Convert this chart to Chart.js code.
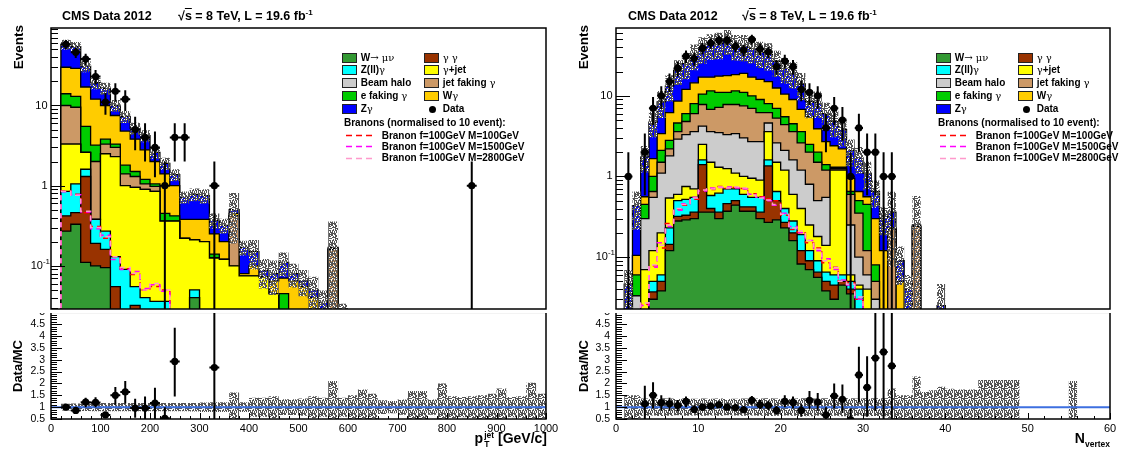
<!DOCTYPE html>
<html lang="en">
<head>
<meta charset="utf-8">
<title>CMS 2012 branon search: jet pT and N vertex</title>
<script src="https://cdn.jsdelivr.net/npm/chart.js@4.4.1/dist/chart.umd.min.js"></script>
<style>
html, body { margin: 0; padding: 0; background: #fff; }
#page { position: relative; width: 1126px; height: 452px; overflow: hidden; background: #fff;
        font-family: "Liberation Sans", Arial, Helvetica, sans-serif; color: #000; }
#page canvas { position: absolute; }
canvas.pad { z-index: 2; background: #fff; }
canvas.ratio { z-index: 1; }
.t { position: absolute; z-index: 5; font-weight: bold; white-space: nowrap; line-height: 1; }
.g { font-family: "DejaVu Serif", "Liberation Serif", serif; font-weight: normal; }
.rot-end { transform-origin: 0 0; transform: rotate(-90deg) translateX(-100%); }
.rot-mid { transform-origin: 0 0; transform: rotate(-90deg) translateX(-50%); }
.leg { position: absolute; z-index: 5; font-size: 10px; font-weight: bold; line-height: 12px; white-space: nowrap; }
.box { position: absolute; z-index: 5; width: 13px; height: 8px; border: 1px solid #222; }
.dot { position: absolute; z-index: 5; width: 7px; height: 7px; border-radius: 50%; background: #000; }
.dash { position: absolute; z-index: 5; line-height: 0; }
.dash svg { display: block; }
sup.s { font-size: 8px; vertical-align: 5px; line-height: 0; }
.ss { display: inline-block; vertical-align: -4px; font-size: 8.5px; line-height: 9px; margin-left: 1px; }
.ss span { display: block; }
</style>
</head>
<body>
<div id="page">
  <canvas id="ptTop" class="pad" width="566" height="313" style="left:0;top:0"></canvas>
  <canvas id="ptRat" class="ratio" width="566" height="152" style="left:0;top:300px"></canvas>
  <canvas id="nvTop" class="pad" width="560" height="313" style="left:566px;top:0"></canvas>
  <canvas id="nvRat" class="ratio" width="560" height="152" style="left:566px;top:300px"></canvas>

  <div class="t" style="left:62px;top:10px;font-size:12.5px">CMS Data 2012</div>
  <div class="t" style="left:178px;top:10px;font-size:12.5px">√<span style="text-decoration:overline">s</span> = 8 TeV, L = 19.6 fb<sup class="s">-1</sup></div>
  <div class="t" style="left:628px;top:10px;font-size:12.5px">CMS Data 2012</div>
  <div class="t" style="left:742px;top:10px;font-size:12.5px">√<span style="text-decoration:overline">s</span> = 8 TeV, L = 19.6 fb<sup class="s">-1</sup></div>

  <div class="t rot-end" style="left:11.5px;top:25px;font-size:13.5px">Events</div>
  <div class="t rot-mid" style="left:10.5px;top:366px;font-size:13px">Data/MC</div>
  <div class="t rot-end" style="left:576.5px;top:25px;font-size:13.5px">Events</div>
  <div class="t rot-mid" style="left:576.5px;top:366px;font-size:13px">Data/MC</div>

  <div class="t" style="right:579px;top:431px;font-size:14px">p<span class="ss"><span>jet</span><span>T</span></span> [GeV/c]</div>
  <div class="t" style="right:16px;top:431px;font-size:14px">N<span style="font-size:8.5px;vertical-align:-4px">vertex</span></div>
</div>

<script>
Chart.defaults.font.family = '"Liberation Sans", Arial, Helvetica, sans-serif';
Chart.defaults.color = '#000';

// ---------------- left: leading jet pT ----------------
const ptLow = [20, 40, 60, 80, 100, 120, 140, 160, 180, 200, 220, 240, 260, 280, 300, 320, 340, 360, 380, 400,
  420, 440, 460, 480, 500, 520, 540, 560, 580, 600, 620, 640, 660, 680, 700, 720, 740, 760, 780, 800,
  820, 840, 860, 880, 900, 920, 940, 960, 980];
const ptBinWidth = 20;
// MC contributions per bin (20-600 GeV), stacked bottom to top
const ptWmunu   = [0.27, 0.33, 0.11, 0.10, 0.095, 0, 0, 0, 0, 0, 0, 0, 0, 0.04, 0, 0, 0, 0, 0, 0, 0, 0, 0, 0, 0, 0, 0, 0, 0];
const ptGG      = [0.15, 0.13, 1.19, 0.09, 0.065, 0.055, 0, 0.032, 0, 0, 0, 0, 0, 0, 0, 0, 0, 0, 0, 0, 0, 0, 0, 0, 0, 0, 0, 0, 0];
const ptZll     = [0.43, 0.59, 0.30, 0.19, 0.11, 0.075, 0.09, 0.023, 0.04, 0.036, 0.036, 0, 0, 0.01, 0, 0, 0, 0, 0, 0, 0, 0, 0, 0, 0, 0, 0, 0, 0];
const ptGJet    = [2.45, 2.25, 1.0, 0, 2.23, 2.17, 0.91, 0.895, 0.86, 0.814, 0.324, 0.36, 0.22, 0.16, 0.20, 0.125, 0.12, 0.10, 0.075, 0.075, 0.072, 0.045, 0, 0, 0, 0, 0, 0, 0];
const ptHalo    = [0, 0, 0, 0, 0, 0, 0, 0, 0, 0, 0, 0, 0, 0, 0, 0, 0, 0, 0, 0, 0, 0, 0, 0, 0, 0, 0, 0, 0];
const ptJetFake = [6.7, 6.2, 0, 1.62, 0.8, 0.7, 0.4, 0.35, 0.15, 0.13, 0, 0, 0, 0, 0, 0, 0, 0.32, 0, 0, 0, 0, 0, 0, 0, 0, 0, 0.16, 0];
const ptEFake   = [4.0, 3.5, 2.9, 1.2, 0.5, 0.3, 0.4, 0.2, 0.15, 0.07, 0.09, 0.06, 0, 0, 0, 0.015, 0, 0, 0, 0, 0, 0, 0.045, 0, 0, 0, 0, 0, 0];
const ptWG      = [16, 16, 11.5, 8.8, 6.2, 4.2, 3.0, 2.3, 1.6, 0.95, 0.95, 0.58, 0.16, 0.17, 0.18, 0.11, 0.08, 0.03, 0.005, 0.025, 0, 0.02, 0.025, 0.065, 0.055, 0.04, 0, 0.005, 0];
const ptZG      = [28, 25, 14, 7.2, 6.4, 2.5, 2.5, 1.4, 1.4, 0.6, 0.5, 0.37, 0.34, 0.40, 0.37, 0.12, 0.12, 0.05, 0.09, 0.05, 0.015, 0.015, 0.04, 0.015, 0.01, 0.01, 0.035, 0.005, 0.024];
// relative MC uncertainty per bin (20-1000 GeV)
const ptRelErr  = [0.14, 0.15, 0.16, 0.17, 0.17, 0.17, 0.17, 0.17, 0.17, 0.17, 0.17, 0.17, 0.17, 0.18, 0.2, 0.21, 0.21, 0.62, 0.21, 0.40,
  0.40, 0.46, 0.33, 0.33, 0.36, 0.46, 0.40, 1.1, 0.40, 0.50, 0.74, 0.57, 0.29, 0.26, 0.32, 0.68, 0.68, 0.32, 1.0, 0.46,
  0.43, 0.46, 0.5, 0.57, 0.79, 0.43, 0.46, 1.03, 0.57];
// branon signals (normalised to 10 events)
const ptBranon100  = [0.86, 0.78, 0.46, 0.31, 0.22, 0.13, 0.092, 0.078, 0.05, 0.055, 0.05, 0, 0, 0, 0, 0, 0, 0, 0, 0, 0, 0, 0, 0, 0, 0, 0, 0, 0];
const ptBranon1500 = [0.84, 0.77, 0.47, 0.29, 0.24, 0.12, 0.09, 0.085, 0.052, 0.058, 0.048, 0, 0, 0, 0, 0, 0, 0, 0, 0, 0, 0, 0, 0, 0, 0, 0, 0, 0];
const ptBranon2800 = [0.85, 0.76, 0.48, 0.30, 0.23, 0.13, 0.095, 0.08, 0.05, 0.06, 0.05, 0, 0, 0, 0, 0, 0, 0, 0, 0, 0, 0, 0, 0, 0, 0, 0, 0, 0];
// data
const ptDataX = [30, 50, 70, 90, 110, 130, 150, 170, 190, 210, 230, 250, 270, 330, 850];
const ptData  = [58, 46, 38, 23, 11, 15, 12, 5, 4, 3, 1, 4, 4, 1, 1];
const ptRatioX    = [30, 50, 70, 90, 110, 130, 150, 170, 190, 210, 230, 250, 330];
const ptRatio     = [1.0, 0.86, 1.21, 1.2, 0.67, 1.5, 1.64, 0.96, 0.96, 1.17, 0.53, 2.93, 2.67];
const ptRatioLow  = [0.9, 0.78, 1.0, 1.0, 0.55, 1.1, 1.15, 0.55, 0.5, 0.5, 0, 1.45, 0];
const ptRatioHigh = [1.12, 0.93, 1.4, 1.42, 0.78, 1.85, 2.1, 1.35, 1.45, 1.82, 1.0, 4.35, 6];
const ptLogLabels = [{v: 0.1, text: '10', sup: '-1'}, {v: 1, text: '1'}, {v: 10, text: '10'}];

// ---------------- right: number of vertices ----------------
const nvLow = [0, 1, 2, 3, 4, 5, 6, 7, 8, 9, 10, 11, 12, 13, 14, 15, 16, 17, 18, 19, 20, 21, 22, 23, 24, 25, 26, 27, 28, 29,
  30, 31, 32, 33, 34, 35, 36, 37, 38, 39, 40, 41, 42, 43, 44, 45, 46, 47, 48, 49, 50, 51, 52, 53, 54, 55, 56, 57, 58, 59];
const nvBinWidth = 1;
const nvWmunu   = [0, 0, 0, 0, 0.03, 0.038, 0.12, 0.28, 0.29, 0.3, 0.36, 0.36, 0.3, 0.37, 0.44, 0.37, 0.37, 0.3, 0.27, 0.29, 0.23, 0.16, 0.082, 0.07, 0.056, 0.038, 0.03, 0.045, 0.035, 0, 0, 0, 0, 0, 0, 0, 0, 0, 0, 0];
const nvGG      = [0, 0, 0, 0, 0.007, 0.012, 0.024, 0.04, 0.04, 0.06, 1.04, 0.04, 0.06, 0.09, 0.06, 0.05, 0.05, 0.06, 1.08, 0.21, 0.04, 0.04, 0.038, 0.02, 0.009, 0.012, 0.015, 0.005, 0.005, 0, 0, 0, 0, 0, 0, 0, 0, 0, 0, 0];
const nvZll     = [0, 0, 0, 0, 0.013, 0.01, 0.086, 0.18, 0.19, 0.19, 0.2, 0.18, 0.26, 0.24, 0.2, 0.18, 0.13, 0.19, 0.25, 0.15, 0.13, 0.08, 0.07, 0.03, 0.025, 0.015, 0.015, 0.01, 0.01, 0.04, 0, 0, 0, 0, 0, 0, 0, 0, 0, 0];
const nvGJet    = [0, 0, 0, 0.07, 0.07, 0.14, 0.31, 0.1, 0.23, 0.15, 0.9, 0.92, 0.68, 0.55, 0.4, 0.4, 0.4, 0.35, 2.0, 0.85, 0.8, 0.32, 0.21, 0.13, 0.09, 0.075, 1.14, 1.14, 0.01, 0.005, 0.04, 0, 0, 0, 0, 0, 0, 0, 0, 0];
const nvHalo    = [0, 0, 0.033, 0.23, 0.43, 0.9, 1.26, 2.3, 2.55, 2.9, 1.7, 2.1, 2.2, 2.05, 2.3, 2.0, 1.75, 1.8, 1.0, 1.1, 0.9, 1.0, 0.8, 0.55, 0.32, 0.41, 0, 0, 0.19, 0.055, 0.02, 0.03, 0, 0, 0, 0, 0, 0, 0, 0];
const nvJetFake = [0, 0, 0, 0, 0.1, 0.4, 0.4, 0.7, 1.5, 2.4, 3.6, 3.2, 3.7, 4.5, 4.4, 4.5, 4.3, 3.5, 1.6, 2.7, 2.3, 2.0, 1.4, 1.2, 1.0, 0.65, 0.05, 0.05, 0.35, 0.25, 0.06, 0.02, 0, 0.22, 0, 0, 0.24, 0, 0, 0];
const nvEFake   = [0, 0, 0.027, 0.15, 0.35, 0.6, 0.6, 1.0, 1.2, 2.0, 2.7, 4.7, 3.8, 3.2, 3.7, 3.5, 3.0, 2.8, 1.8, 1.7, 1.1, 0.9, 1.0, 0.5, 0.5, 0.2, 0.05, 0.05, 0.05, 0.15, 0.33, 0.03, 0, 0, 0, 0, 0, 0, 0, 0];
const nvWG      = [0, 0, 0.045, 0.11, 0.66, 1.3, 3.4, 4.0, 6.0, 6.5, 6.5, 5.5, 6.5, 6.8, 6.8, 8.0, 7.0, 7.0, 7.0, 5.5, 5.0, 4.5, 3.2, 3.0, 1.9, 1.3, 1.1, 0.9, 0.3, 0.15, 0.11, 0.22, 0.12, 0.01, 0.05, 0, 0, 0, 0, 0];
const nvZG      = [0, 0.046, 0.33, 1.19, 3.04, 5.0, 7.0, 12.0, 13, 17.5, 22, 26, 27, 31.2, 23.7, 22.6, 21.8, 18.5, 17.7, 14.2, 11.3, 10.2, 7.2, 3.0, 4.4, 3.3, 2.4, 1.6, 1.15, 1.05, 0.54, 0.35, 0.18, 0.13, 0.04, 0.04, 0.01, 0, 0, 0.025];
const nvRelErr  = [0, 0.5, 0.5, 0.36, 0.35, 0.37, 0.36, 0.34, 0.36, 0.35, 0.36, 0.35, 0.36, 0.34, 0.35, 0.36, 0.35, 0.36, 0.37, 0.36,
  0.35, 0.36, 0.37, 0.38, 0.36, 0.37, 0.36, 0.38, 0.37, 0.36, 0.38, 0.37, 0.38, 0.79, 0.5, 0.5, 1.29, 0.64, 0.71, 0.86,
  0.78, 0.74, 0.74, 0.74, 1.14, 1.14, 1.14, 1.14, 1.14, 0, 0, 0, 0, 0, 0, 1.1, 0, 0, 0, 0];
const nvBranon100  = [0, 0, 0, 0.026, 0.078, 0.13, 0.26, 0.39, 0.44, 0.52, 0.67, 0.69, 0.75, 0.71, 0.73, 0.71, 0.61, 0.56, 0.53, 0.5, 0.33, 0.22, 0.2, 0.15, 0.13, 0.085, 0.075, 0.05, 0.048, 0.03, 0, 0, 0, 0, 0, 0, 0, 0, 0, 0];
const nvBranon1500 = [0, 0, 0, 0.025, 0.075, 0.15, 0.24, 0.38, 0.46, 0.55, 0.66, 0.72, 0.73, 0.74, 0.72, 0.7, 0.6, 0.55, 0.5, 0.44, 0.35, 0.24, 0.2, 0.16, 0.12, 0.095, 0.07, 0.052, 0.045, 0.03, 0, 0, 0, 0, 0, 0, 0, 0, 0, 0];
const nvBranon2800 = [0, 0, 0, 0.027, 0.08, 0.14, 0.25, 0.4, 0.45, 0.54, 0.68, 0.7, 0.74, 0.72, 0.74, 0.72, 0.59, 0.54, 0.51, 0.45, 0.34, 0.23, 0.21, 0.16, 0.125, 0.09, 0.074, 0.05, 0.046, 0.032, 0, 0, 0, 0, 0, 0, 0, 0, 0, 0];
const nvDataX = [1.5, 3.5, 4.5, 5.5, 6.5, 7.5, 8.5, 9.5, 10.5, 11.5, 12.5, 13.5, 14.5, 15.5, 16.5, 17.5, 18.5, 19.5, 20.5, 21.5,
  22.5, 23.5, 24.5, 25.5, 26.5, 27.5, 28.5, 29.5, 30.5, 31.5, 32.5, 33.5];
const nvData  = [1, 2, 7, 10, 15, 22, 31, 29, 39, 45, 49, 49, 41, 37, 50, 38, 35, 23, 27, 23, 12, 11, 10, 4, 7, 5, 1, 4, 2, 2, 1, 1];
const nvRatioX = [3.5, 4.5, 5.5, 6.5, 7.5, 8.5, 9.5, 10.5, 11.5, 12.5, 13.5, 14.5, 15.5, 16.5, 17.5, 18.5, 19.5, 20.5, 21.5,
  22.5, 23.5, 24.5, 25.5, 26.5, 27.5, 28.5, 29.5, 30.5, 31.5, 32.5, 33.5];
const nvRatio     = [1.14, 1.5, 1.19, 1.14, 1.07, 1.24, 0.9, 1.0, 1.04, 1.1, 1.0, 0.97, 0.89, 1.29, 1.1, 1.07, 0.86, 1.24, 1.2, 0.86, 1.29, 1.21, 0.67, 1.47, 1.33, 0.47, 2.36, 1.83, 3.07, 3.33, 2.74];
const nvRatioLow  = [0.35, 0.95, 0.85, 0.85, 0.82, 1.0, 0.75, 0.85, 0.9, 0.95, 0.88, 0.83, 0.75, 1.1, 0.92, 0.88, 0.7, 1.0, 0.95, 0.6, 0.92, 0.85, 0.35, 0.95, 0.75, 0, 1.2, 0.6, 0.85, 0, 0];
const nvRatioHigh = [1.9, 2.05, 1.5, 1.4, 1.3, 1.45, 1.08, 1.15, 1.2, 1.25, 1.15, 1.12, 1.05, 1.47, 1.3, 1.26, 1.05, 1.5, 1.45, 1.12, 1.68, 1.6, 1.0, 2.0, 1.95, 0.95, 3.55, 3.15, 6, 6, 6];
const nvLogLabels = [{v: 0.1, text: '10', sup: '-1'}, {v: 1, text: '1'}, {v: 10, text: '10'}];

// ---------------- styles / helpers ----------------
// stack order: W->munu, gamma gamma, Z(ll)gamma, gamma+jet, beam halo, jet faking, e faking, W gamma, Z gamma
const MC_COLORS = ['#339933', '#993300', '#00ffff', '#ffff00', '#cccccc', '#cc9966', '#00cc00', '#ffcc00', '#0000ff'];
const BRANON_COLORS = ['#ff0000', '#ff00ff', '#ff99cc'];
// the log axis drops exact zeros, so empty bins sit far below the visible range instead
const TINY = 1e-9;
const pos = v => (v > 0 ? v : TINY);

// speckled grey fill for the MC uncertainty band (fixed, hash-based tile)
function makeHatch() {
  const N = 10;
  const c = document.createElement('canvas');
  c.width = N; c.height = N;
  const g = c.getContext('2d');
  for (let j = 0; j < N; j++) {
    for (let i = 0; i < N; i++) {
      const h = (i * 37 + j * 61 + i * j * 17 + (i ^ j) * 11) % 13;
      if (h >= 10) continue;
      g.fillStyle = h < 8 ? '#555555' : '#ffffff';
      g.fillRect(i, j, 1, 1);
    }
  }
  return g.createPattern(c, 'repeat');
}
const HATCH = makeHatch();

// step outline: each value holds from its bin low edge to the next edge, closed down to `edge` at both ends
function histPoints(low, width, vals, edge) {
  const n = vals.length, eps = width * 1e-3;
  const pts = [{x: low[0] - eps, y: edge}];
  for (let i = 0; i < n; i++) pts.push({x: low[i], y: vals[i]});
  pts.push({x: low[n - 1] + width, y: vals[n - 1]});
  pts.push({x: low[n - 1] + width + eps, y: edge});
  return pts;
}

function logTicks(min, max) {
  const major = [], minor = [];
  for (let d = -3; d <= 3; d++) {
    for (let k = 1; k <= 9; k++) {
      const v = k * Math.pow(10, d);
      if (v < min || v > max) continue;
      (k === 1 ? major : minor).push(v);
    }
  }
  return {major, minor};
}
function linTicks(min, max, majorStep, minorStep) {
  const major = [], minor = [];
  const n = Math.round((max - min) / minorStep), r = Math.round(majorStep / minorStep);
  for (let i = 0; i <= n; i++) (i % r === 0 ? major : minor).push(min + i * minorStep);
  return {major, minor};
}

// data error bars (vertical stat error + half bin width)
const errorBars = {
  id: 'errorBars',
  beforeDatasetDraw(chart, args) {
    const ds = chart.data.datasets[args.index];
    if (!ds.errHigh) return;
    const {ctx, chartArea: a, scales: {x, y}} = chart;
    ctx.save();
    ctx.beginPath();
    ctx.rect(a.left, a.top, a.right - a.left, a.bottom - a.top);
    ctx.clip();
    ctx.strokeStyle = '#000';
    ctx.lineWidth = 2;
    ctx.beginPath();
    ds.data.forEach((p, i) => {
      const px = x.getPixelForValue(p.x), py = y.getPixelForValue(p.y);
      ctx.moveTo(px, y.getPixelForValue(ds.errLow[i]));
      ctx.lineTo(px, y.getPixelForValue(ds.errHigh[i]));
      ctx.moveTo(x.getPixelForValue(p.x - ds.xHalf), py);
      ctx.lineTo(x.getPixelForValue(p.x + ds.xHalf), py);
    });
    ctx.stroke();
    ctx.restore();
  }
};

// ROOT-like frame with inward ticks
function frameAxes(cfg) {
  return {
    id: 'frameAxes',
    afterDatasetsDraw(chart) {
      const {ctx, chartArea: a, scales} = chart;
      const sx = scales.x, sy = scales.y;
      ctx.save();
      ctx.strokeStyle = '#000';
      ctx.lineWidth = 1;
      ctx.beginPath();
      const yTick = (v, len) => { const p = Math.round(sy.getPixelForValue(v)) + 0.5; ctx.moveTo(a.left, p); ctx.lineTo(a.left + len, p); };
      cfg.y.major.forEach(v => yTick(v, cfg.yLen[0]));
      cfg.y.minor.forEach(v => yTick(v, cfg.yLen[1]));
      if (cfg.x) {
        const xTick = (v, len) => { const p = Math.round(sx.getPixelForValue(v)) + 0.5; ctx.moveTo(p, a.bottom); ctx.lineTo(p, a.bottom - len); };
        cfg.x.major.forEach(v => xTick(v, cfg.xLen[0]));
        cfg.x.minor.forEach(v => xTick(v, cfg.xLen[1]));
      }
      ctx.stroke();
      ctx.lineWidth = 1.5;
      ctx.strokeRect(a.left, a.top, a.right - a.left, a.bottom - a.top);
      if (cfg.logLabels) {
        ctx.fillStyle = '#000';
        ctx.textBaseline = 'middle';
        ctx.textAlign = 'right';
        cfg.logLabels.forEach(l => {
          const p = sy.getPixelForValue(l.v);
          let xr = a.left - 3.5;
          if (l.sup) {
            ctx.font = '8px "Liberation Sans", Arial, sans-serif';
            ctx.fillText(l.sup, a.left - 1, p - 4);
            xr = a.left - 1 - ctx.measureText(l.sup).width;
          }
          ctx.font = '11px "Liberation Sans", Arial, sans-serif';
          ctx.fillText(l.text, xr, p);
        });
      }
      ctx.restore();
    }
  };
}

function makeTop(id, o) {
  const n = o.stack[0].length;
  const low = o.low.slice(0, n);
  const total = low.map((_, i) => o.stack.reduce((s, a) => s + a[i], 0));
  const ds = [];
  o.stack.forEach((vals, k) => ds.push({
    data: histPoints(low, o.width, vals.map(pos), TINY), stack: 'mc', order: 10 + k,
    stepped: 'before', fill: 'start', backgroundColor: MC_COLORS[k],
    borderColor: '#000', borderWidth: 1.3, pointRadius: 0
  }));
  ds.push({
    data: histPoints(low, o.width, total.map((t, i) => pos(t * (1 + o.rel[i]))), TINY), stack: 'errUp', order: 5,
    stepped: 'before', fill: '+1', backgroundColor: HATCH, borderWidth: 0, pointRadius: 0
  });
  ds.push({
    data: histPoints(low, o.width, total.map((t, i) => pos(t * (1 - o.rel[i]))), TINY), stack: 'errDn', order: 6,
    stepped: 'before', fill: false, borderWidth: 0, pointRadius: 0
  });
  o.branons.forEach((vals, k) => ds.push({
    data: histPoints(low, o.width, vals.map(v => (v > 0 ? v : 1e-4)), 1e-4), stack: 'br' + k, order: 3 - k * 0.1,
    stepped: 'before', fill: false, borderColor: BRANON_COLORS[k], borderWidth: 1.5, borderDash: [5, 4], pointRadius: 0
  }));
  ds.push({
    data: o.dataX.map((x, i) => ({x, y: o.data[i]})), stack: 'data', order: 0, showLine: false,
    pointRadius: 3.6, pointBackgroundColor: '#000', pointBorderWidth: 0,
    errLow: o.data.map(v => v - Math.sqrt(v)), errHigh: o.data.map(v => v + Math.sqrt(v)), xHalf: o.width / 2
  });
  return new Chart(document.getElementById(id), {
    type: 'line',
    data: {datasets: ds},
    options: {
      responsive: false, animation: false, events: [],
      layout: {padding: {left: 0, top: 28, right: o.padRight, bottom: 1}},
      plugins: {legend: {display: false}, tooltip: {enabled: false}},
      scales: {
        x: {type: 'linear', min: o.xMin, max: o.xMax, display: false},
        y: {type: 'logarithmic', min: o.yMin, max: o.yMax, stacked: true,
            ticks: {display: false}, grid: {display: false, drawTicks: false}, border: {display: false},
            afterFit: s => { s.width = o.axisW; }}
      }
    },
    plugins: [errorBars, frameAxes({y: logTicks(o.yMin, o.yMax), yLen: [14, 7], logLabels: o.logLabels})]
  });
}

function makeRatio(id, o) {
  const ds = [
    {data: histPoints(o.low, o.width, o.rel.map(r => 1 + r), 1), order: 5, stepped: 'before', fill: '+1',
     backgroundColor: HATCH, borderWidth: 0, pointRadius: 0},
    {data: histPoints(o.low, o.width, o.rel.map(r => 1 - r), 1), order: 6, stepped: 'before', fill: false,
     borderWidth: 0, pointRadius: 0},
    {data: [{x: o.xMin, y: 1}, {x: o.xMax, y: 1}], order: 2, borderColor: '#3d6fe0', borderWidth: 2,
     pointRadius: 0, fill: false},
    {data: o.x.map((x, i) => ({x, y: o.ratio[i]})), order: 0, showLine: false, pointRadius: 3.6,
     pointBackgroundColor: '#000', pointBorderWidth: 0, errLow: o.lo, errHigh: o.hi, xHalf: o.width / 2}
  ];
  return new Chart(document.getElementById(id), {
    type: 'line',
    data: {datasets: ds},
    options: {
      responsive: false, animation: false, events: [],
      layout: {padding: {left: 0, top: 12, right: o.padRight, bottom: 0}},
      plugins: {legend: {display: false}, tooltip: {enabled: false}},
      scales: {
        x: {type: 'linear', min: o.xMin, max: o.xMax,
            ticks: {stepSize: o.xStep, padding: 3, maxRotation: 0, autoSkip: false, font: {size: 11},
                    callback: v => String(v)},
            grid: {display: false, drawTicks: false}, border: {display: false},
            afterFit: s => { s.height = 33; s.paddingLeft = 0; s.paddingRight = 0; }},
        y: {type: 'linear', min: 0.5, max: 5,
            ticks: {stepSize: 0.5, padding: 6, autoSkip: false, font: {size: 10.5},
                    callback: v => String(Math.round(v * 10) / 10)},
            grid: {display: false, drawTicks: false}, border: {display: false},
            afterFit: s => { s.width = o.axisW; }}
      }
    },
    plugins: [errorBars, frameAxes({y: linTicks(0.5, 5, 0.5, 0.1), yLen: [11, 6],
      x: linTicks(o.xMin, o.xMax, o.xStep, o.xMinor), xLen: [6, 3]})]
  });
}

makeTop('ptTop', {
  low: ptLow, width: ptBinWidth, rel: ptRelErr,
  stack: [ptWmunu, ptGG, ptZll, ptGJet, ptHalo, ptJetFake, ptEFake, ptWG, ptZG],
  branons: [ptBranon100, ptBranon1500, ptBranon2800],
  dataX: ptDataX, data: ptData, logLabels: ptLogLabels,
  xMin: 0, xMax: 1000, yMin: 0.0289, yMax: 92.6, axisW: 51, padRight: 20
});
makeRatio('ptRat', {
  low: ptLow, width: ptBinWidth, rel: ptRelErr,
  x: ptRatioX, ratio: ptRatio, lo: ptRatioLow, hi: ptRatioHigh,
  xMin: 0, xMax: 1000, xStep: 100, xMinor: 20, axisW: 51, padRight: 20
});
makeTop('nvTop', {
  low: nvLow, width: nvBinWidth, rel: nvRelErr,
  stack: [nvWmunu, nvGG, nvZll, nvGJet, nvHalo, nvJetFake, nvEFake, nvWG, nvZG],
  branons: [nvBranon100, nvBranon1500, nvBranon2800],
  dataX: nvDataX, data: nvData, logLabels: nvLogLabels,
  xMin: 0, xMax: 60, yMin: 0.0227, yMax: 69.3, axisW: 50, padRight: 16
});
makeRatio('nvRat', {
  low: nvLow, width: nvBinWidth, rel: nvRelErr,
  x: nvRatioX, ratio: nvRatio, lo: nvRatioLow, hi: nvRatioHigh,
  xMin: 0, xMax: 60, xStep: 10, xMinor: 2, axisW: 50, padRight: 16
});

// legends (same layout on both pads)
const legendRows = [
  {col: 0, row: 0, html: 'W<span class="g">&rarr; μν</span>', color: MC_COLORS[0]},
  {col: 0, row: 1, html: 'Z(ll)<span class="g">γ</span>', color: MC_COLORS[2]},
  {col: 0, row: 2, html: 'Beam halo', color: MC_COLORS[4]},
  {col: 0, row: 3, html: 'e faking <span class="g">γ</span>', color: MC_COLORS[6]},
  {col: 0, row: 4, html: 'Z<span class="g">γ</span>', color: MC_COLORS[8]},
  {col: 1, row: 0, html: '<span class="g">γ γ</span>', color: MC_COLORS[1]},
  {col: 1, row: 1, html: '<span class="g">γ</span>+jet', color: MC_COLORS[3]},
  {col: 1, row: 2, html: 'jet faking <span class="g">γ</span>', color: MC_COLORS[5]},
  {col: 1, row: 3, html: 'W<span class="g">γ</span>', color: MC_COLORS[7]},
  {col: 1, row: 4, html: 'Data', marker: true}
];
const branonLabels = ['Branon f=100GeV M=100GeV', 'Branon f=100GeV M=1500GeV', 'Branon f=100GeV M=2800GeV'];

function buildLegend(x0) {
  const page = document.getElementById('page');
  const add = (cls, style, html) => {
    const d = document.createElement('div');
    d.className = cls;
    d.style.cssText = style;
    if (html) d.innerHTML = html;
    page.appendChild(d);
  };
  legendRows.forEach(e => {
    const bx = x0 + e.col * 82, cy = 57.5 + e.row * 12.9;
    if (e.marker) add('dot', `left:${bx + 5.2}px;top:${cy - 3.5}px`);
    else add('box', `left:${bx}px;top:${cy - 5}px;background:${e.color}`);
    add('leg', `left:${bx + 18.7}px;top:${cy - 6}px`, e.html);
  });
  add('leg', `left:${x0 + 2}px;top:${122.5 - 6}px`, 'Branons (normalised to 10 event):');
  branonLabels.forEach((txt, k) => {
    const cy = 135.7 + k * 11.15;
    add('dash', `left:${x0 + 4}px;top:${cy - 1.5}px`,
      `<svg width="26" height="3"><line x1="0" y1="1.5" x2="26" y2="1.5" stroke="${BRANON_COLORS[k]}" stroke-width="1.5" stroke-dasharray="6,4"/></svg>`);
    add('leg', `left:${x0 + 39.7}px;top:${cy - 6}px`, txt);
  });
}
buildLegend(342);
buildLegend(936);
</script>
</body>
</html>
